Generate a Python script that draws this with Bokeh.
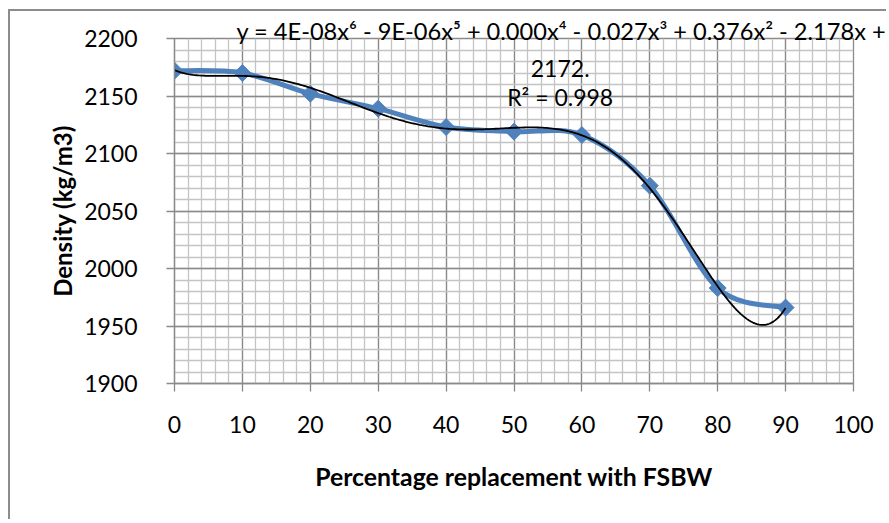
import numpy as np
from bokeh.plotting import figure
from bokeh.models import Range1d, SingleIntervalTicker, Label, ColumnDataSource, Title
from bokeh.embed import file_html
from bokeh.resources import INLINE

# ---- data ----
replacement_pct = [0, 10, 20, 30, 40, 50, 60, 70, 80, 90]
density = [2172, 2170, 2152, 2139, 2123, 2119, 2116, 2072, 1983, 1966]
x_title = "Percentage replacement with FSBW"
y_title = "Density (kg/m3)"
eq_line1 = "y = 4E-08x\u2076 - 9E-06x\u2075 + 0.000x\u2074 - 0.027x\u00b3 + 0.376x\u00b2 - 2.178x +"
eq_line2 = "2172."
eq_line3 = "R\u00b2 = 0.998"

BLUE = "#4F81BD"
MAJOR = "#8A8A8A"
MINOR = "#C4C4C4"
FONT = "Lato"

p = figure(width=878, height=510, output_backend="svg", toolbar_location=None,
           x_range=Range1d(0, 100), y_range=Range1d(1900, 2200),
           min_border_left=164, min_border_right=35, min_border_top=27,
           min_border_bottom=138)
p.styles = {"margin-left": "8px", "margin-top": "9px",
            "border-left": "2px solid #8C8C8C", "border-top": "2px solid #8C8C8C"}
p.outline_line_color = MAJOR
p.outline_line_width = 1.3

p.xaxis.ticker = SingleIntervalTicker(interval=10, num_minor_ticks=5)
p.yaxis.ticker = SingleIntervalTicker(interval=50, num_minor_ticks=5)
for ax in (p.xaxis[0], p.yaxis[0]):
    ax.axis_line_color = MAJOR
    ax.axis_line_width = 1.3
    ax.major_tick_line_color = MAJOR
    ax.major_tick_line_width = 1.3
    ax.major_tick_out = 8
    ax.major_tick_in = 0
    ax.minor_tick_line_color = None
    ax.major_label_text_font = FONT
    ax.major_label_text_font_size = "23px"
    ax.major_label_text_color = "black"
    ax.axis_label_text_font = FONT
    ax.axis_label_text_font_style = "bold"
    ax.axis_label_text_color = "black"
p.xaxis.axis_label = x_title
p.xaxis.axis_label_text_font_size = "24.8px"
p.xaxis.major_label_standoff = 24
p.xaxis.axis_label_standoff = 26
p.yaxis.major_label_standoff = 29

# y axis title as a side title next to the axis
p.add_layout(Title(text=y_title, align="center", standoff=10,
                   text_font=FONT, text_font_size="24px",
                   text_font_style="bold", text_color="black"), "left")

for g in (p.xgrid[0], p.ygrid[0]):
    g.grid_line_color = MAJOR
    g.grid_line_width = 1.3
    g.minor_grid_line_color = MINOR
    g.minor_grid_line_width = 1.3

# smoothed series line (Bezier segments through the points)
xs = np.array(replacement_pct, dtype=float)
ys = np.array(density, dtype=float)
xp = np.concatenate([[xs[0]], xs, [xs[-1]]])
yp = np.concatenate([[ys[0]], ys, [ys[-1]]])
n = len(xs)
bez = dict(x0=[], y0=[], x1=[], y1=[], cx0=[], cy0=[], cx1=[], cy1=[])
for i in range(n - 1):
    j = i + 1
    bez["x0"].append(xp[j]); bez["y0"].append(yp[j])
    bez["x1"].append(xp[j + 1]); bez["y1"].append(yp[j + 1])
    bez["cx0"].append(xp[j] + (xp[j + 1] - xp[j - 1]) / 6)
    bez["cy0"].append(yp[j] + (yp[j + 1] - yp[j - 1]) / 6)
    bez["cx1"].append(xp[j + 1] - (xp[j + 2] - xp[j]) / 6)
    bez["cy1"].append(yp[j + 1] - (yp[j + 2] - yp[j]) / 6)
p.bezier(x0="x0", y0="y0", x1="x1", y1="y1", cx0="cx0", cy0="cy0",
         cx1="cx1", cy1="cy1", source=ColumnDataSource(bez),
         line_color=BLUE, line_width=5)

p.scatter(replacement_pct, density, marker="square", angle=np.pi / 4, size=12,
          fill_color=BLUE, line_color=BLUE)

# polynomial trendline (6th order least squares fit)
coef = np.polyfit(xs, ys, 6)
tx = np.linspace(xs.min(), xs.max(), 300)
p.line(tx, np.polyval(coef, tx), line_color="black", line_width=1.8)

# trendline equation label (first line overlaps the top of the plot area)
p.add_layout(Title(text=eq_line1, align="left", offset=62, standoff=-12,
                   text_font=FONT, text_font_size="23.6px",
                   text_font_style="normal", text_color="black"), "above")
for txt, yv in ((eq_line2, 2173.5), (eq_line3, 2149.5)):
    p.add_layout(Label(x=56.8, y=yv, text=txt, text_align="center",
                       text_baseline="middle", text_font=FONT,
                       text_font_size="23px", text_color="black"))

open("out.html", "w").write(file_html(p, INLINE))
